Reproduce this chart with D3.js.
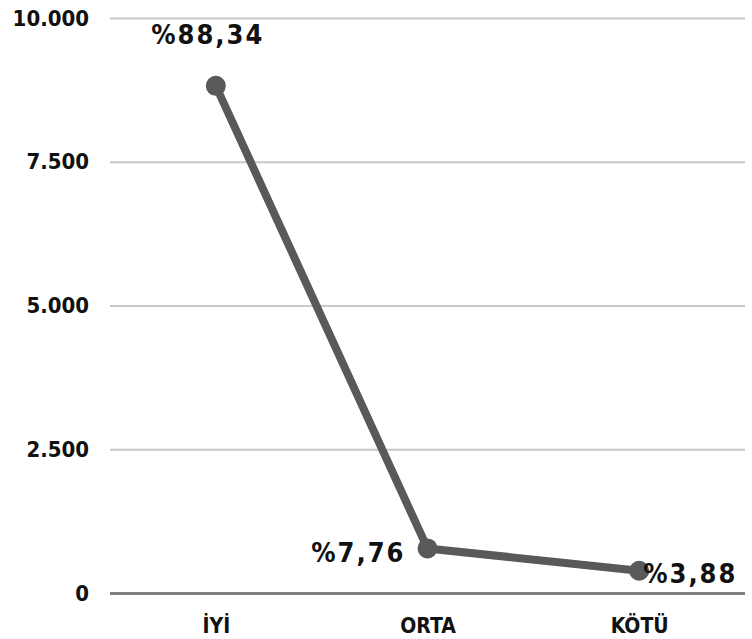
<!DOCTYPE html>
<html>
<head>
<meta charset="utf-8">
<script src="https://cdn.jsdelivr.net/npm/d3@7"></script>
<style>
  body { margin: 0; background: #fff; }
  text { font-family: "Liberation Sans Narrow", "DejaVu Sans Condensed", sans-serif; font-weight: bold; fill: #111; }
</style>
</head>
<body>
<svg></svg>
<script>
const categories = ["İYİ", "ORTA", "KÖTÜ"];
const values = [8820, 775, 387];
const percentLabels = ["%88,34", "%7,76", "%3,88"];
const yTicks = [0, 2500, 5000, 7500, 10000];

const width = 752, height = 639;
const plotLeft = 110, plotRight = 745, plotTop = 18, plotBottom = 593;

const svg = d3.select("svg").attr("width", width).attr("height", height);

const x = d3.scalePoint().domain(categories).range([plotLeft, plotRight]).padding(0.5);
const y = d3.scaleLinear().domain([0, 10000]).range([plotBottom, plotTop]);

const fmt = d => d3.format(",")(d).replace(/,/g, ".");

// grid
svg.append("g")
    .attr("transform", "translate(" + plotLeft + ",0)")
    .call(d3.axisLeft(y).tickValues(yTicks).tickSize(-(plotRight - plotLeft)).tickFormat(fmt).tickPadding(21))
    .call(g => g.select(".domain").remove())
    .call(g => g.selectAll(".tick line")
        .attr("stroke", d => d === 0 ? "#808080" : "#c8c8c8")
        .attr("stroke-width", d => d === 0 ? 3 : 2))
    .call(g => g.selectAll(".tick text").attr("font-size", 22).attr("fill", "#111")
        .style("font-family", "'Liberation Sans Narrow', 'DejaVu Sans Condensed', sans-serif"));

// x axis labels
svg.append("g")
    .attr("transform", "translate(0," + plotBottom + ")")
    .call(d3.axisBottom(x).tickSize(0).tickPadding(25))
    .call(g => g.select(".domain").remove())
    .call(g => g.selectAll(".tick text").attr("font-size", 21).attr("fill", "#111")
        .style("font-family", "'Liberation Sans Narrow', 'DejaVu Sans Condensed', sans-serif"));

const data = categories.map((c, i) => ({ c: c, v: values[i], p: percentLabels[i] }));

const line = d3.line().x(d => x(d.c)).y(d => y(d.v));
svg.append("path")
    .datum(data)
    .attr("fill", "none")
    .attr("stroke", "#595959")
    .attr("stroke-width", 8)
    .attr("stroke-linejoin", "round")
    .attr("d", line);

svg.selectAll("circle.pt")
    .data(data)
    .enter().append("circle")
    .attr("class", "pt")
    .attr("cx", d => x(d.c))
    .attr("cy", d => y(d.v))
    .attr("r", 10)
    .attr("fill", "#595959");

// percentage labels: above, left, right
const labelPos = [
    { dx: -8, dy: -42, anchor: "middle" },
    { dx: -22, dy: 14, anchor: "end" },
    { dx: 4, dy: 12, anchor: "start" }
];
svg.selectAll("text.pct")
    .data(data)
    .enter().append("text")
    .attr("class", "pct")
    .attr("x", (d, i) => x(d.c) + labelPos[i].dx)
    .attr("y", (d, i) => y(d.v) + labelPos[i].dy)
    .attr("text-anchor", (d, i) => labelPos[i].anchor)
    .attr("font-size", 27)
    .attr("letter-spacing", 2)
    .text(d => d.p);
</script>
</body>
</html>
